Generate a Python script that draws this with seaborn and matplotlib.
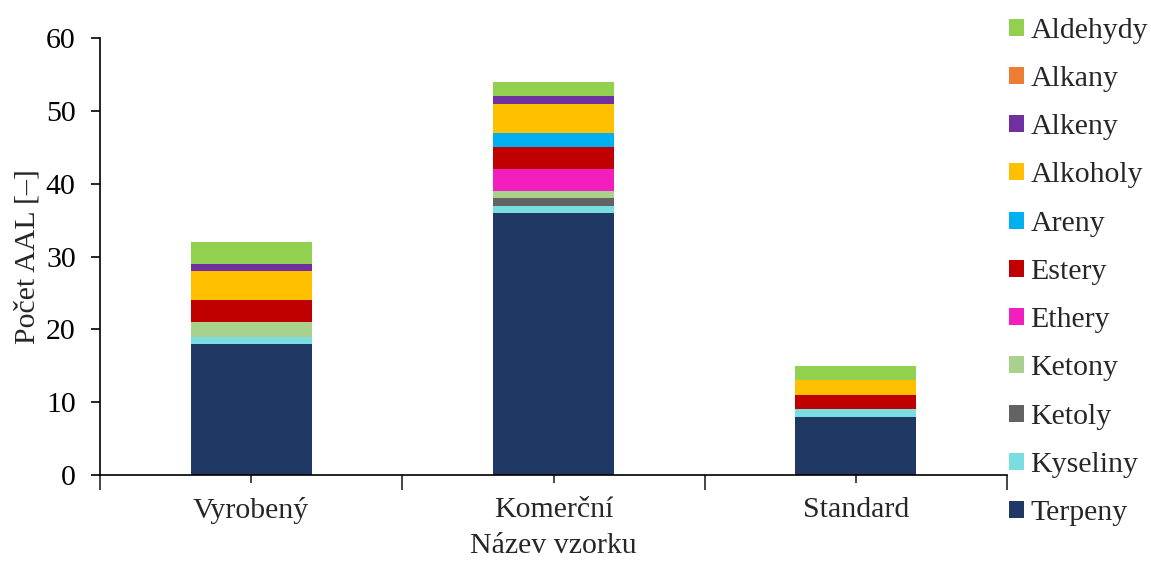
import numpy as np
import pandas as pd
import matplotlib
matplotlib.use("Agg")
import matplotlib.pyplot as plt
from matplotlib.patches import Patch
import seaborn as sns

# ------------------------------
# Data
# ------------------------------
vzorky = ["Vyrobený", "Komerční", "Standard"]
# bottom -> top stacking order
skupiny = ["Terpeny", "Kyseliny", "Ketoly", "Ketony", "Ethery", "Estery",
           "Areny", "Alkoholy", "Alkeny", "Alkany", "Aldehydy"]
terpeny = [18, 36, 8]
kyseliny = [1, 1, 1]
ketoly = [0, 1, 0]
ketony = [2, 1, 0]
ethery = [0, 3, 0]
estery = [3, 3, 2]
areny = [0, 2, 0]
alkoholy = [4, 4, 2]
alkeny = [1, 1, 0]
alkany = [0, 0, 0]
aldehydy = [3, 2, 2]

barvy = ["#203864", "#7ADDE0", "#636363", "#A9D18E", "#F21FBE", "#C00000",
         "#00B0F0", "#FFC000", "#7030A0", "#ED7D31", "#92D050"]

df = pd.DataFrame({
    "Terpeny": terpeny, "Kyseliny": kyseliny, "Ketoly": ketoly,
    "Ketony": ketony, "Ethery": ethery, "Estery": estery, "Areny": areny,
    "Alkoholy": alkoholy, "Alkeny": alkeny, "Alkany": alkany,
    "Aldehydy": aldehydy,
}, index=vzorky)
cum = df[skupiny].cumsum(axis=1)

# ------------------------------
# Plot
# ------------------------------
fs = 21.5
sns.set_style("white")
plt.rcParams["font.family"] = ["Liberation Serif", "DejaVu Serif"]
plt.rcParams["font.size"] = fs

fig = plt.figure(figsize=(11.51, 5.63), dpi=100)
ax = fig.add_axes([0.0869, 0.1563, 0.7881, 0.7762])

# draw cumulative bars top-down so each layer covers the one above
for skupina, barva in reversed(list(zip(skupiny, barvy))):
    sns.barplot(x=vzorky, y=cum[skupina].values, color=barva, saturation=1,
                width=0.4, linewidth=0, errorbar=None, ax=ax)

ax.set_ylim(0, 60)
ax.set_yticks(np.arange(0, 61, 10))
ax.set_xlim(-0.5, 2.5)
ax.set_xticks([0, 1, 2])
ax.set_xticklabels(vzorky)
ax.set_xticks([-0.5, 0.5, 1.5, 2.5], minor=True)

for s in ["top", "right"]:
    ax.spines[s].set_visible(False)
for s in ["left", "bottom"]:
    ax.spines[s].set_color("black")
    ax.spines[s].set_linewidth(1.2)

ax.tick_params(axis="y", which="major", direction="out", length=6.5, width=1.2,
               pad=11, labelsize=fs, left=True, colors="black")
ax.tick_params(axis="x", which="major", direction="out", length=6, width=1.2,
               pad=10, labelsize=fs, bottom=True)
ax.tick_params(axis="x", which="minor", direction="out", length=11, width=1.2,
               bottom=True)

ax.set_xlabel("Název vzorku", fontsize=fs, labelpad=6)
ax.set_ylabel("Počet AAL [–]", fontsize=fs, labelpad=4)

handles = [Patch(facecolor=c, edgecolor="none", label=s)
           for s, c in zip(skupiny, barvy)]
handles = handles[::-1]
fig.legend(handles=handles, loc="center left", bbox_to_anchor=(0.877, 0.517),
           frameon=False, fontsize=fs, handlelength=0.5, handleheight=0.5,
           handletextpad=0.2, labelspacing=0.745, borderpad=0, borderaxespad=0)

fig.savefig("out.png", dpi=100)
